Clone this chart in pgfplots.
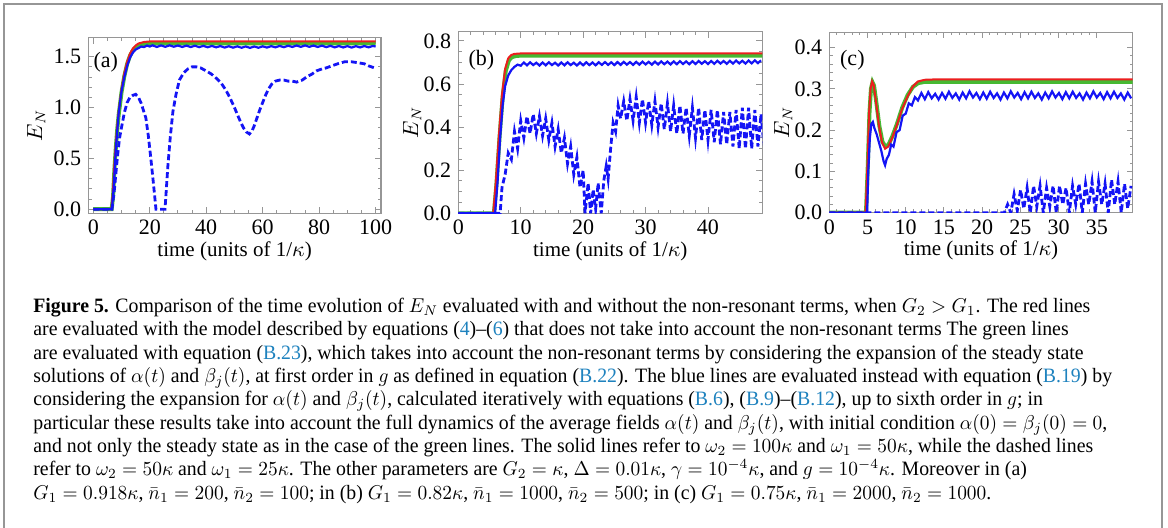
\documentclass[border=0pt]{standalone}
\usepackage{graphicx}
\usepackage{pgfplots}
\pgfplotsset{compat=1.18}
\usepackage{fontspec}
\setmainfont{Liberation Serif}

\definecolor{ered}{RGB}{235,30,30}
\definecolor{egreen}{RGB}{70,185,50}
\definecolor{eblue}{RGB}{20,20,245}
\definecolor{eref}{RGB}{30,130,190}
\definecolor{eframe}{RGB}{150,150,150}

\pgfplotsset{
  enpanel/.style={
    scale only axis,
    axis line style={eframe, line width=0.6pt},
    tick style={eframe, line width=0.5pt},
    major tick length=3pt, minor tick length=1.6pt,
    tick label style={font=\fontsize{11}{13}\selectfont},
    /pgf/number format/assume math mode=true,
    label style={font=\fontsize{10.5}{12}\selectfont},
    xlabel={time (units of 1/$\kappa$)},
    ylabel={$E_N$},
    xlabel style={at={([yshift=-21.5pt]axis description cs:0.5,0)}, anchor=base},
    ylabel style={at={([xshift=-23pt]axis description cs:0,0.5)}, anchor=center},
    yticklabel style={/pgf/number format/.cd, fixed, fixed zerofill, precision=1},
  },
  redline/.style={ered, line width=1pt},
  greenline/.style={egreen, line width=2pt},
  blueline/.style={eblue, line width=1.1pt},
  bluedash/.style={eblue, line width=1.4pt, dash pattern=on 3pt off 1.5pt},
}

\begin{document}
\begin{tikzpicture}
\path[use as bounding box] (0,0) rectangle (584pt,-264pt);
\draw[eframe, line width=1pt] (2pt,-266pt) -- (2pt,-2pt) -- (581pt,-2pt) -- (581pt,-266pt);

% (a)
\begin{axis}[enpanel, at={(44.15pt,-106.65pt)}, anchor=south west,
  width=146.35pt, height=87.8pt,
  xmin=-1.77, xmax=101.9, ymin=-0.04, ymax=1.687,
  xtick={0,20,...,100}, ytick={0,0.5,1,1.5},
  minor x tick num=3, minor y tick num=4,
  ylabel style={at={([xshift=-26pt]axis description cs:0,0.5)}}]
\addplot[greenline] coordinates {(0,0) (6.5,0) (7,0.12) (7.5,0.4) (8,0.61) (8.5,0.79) (9,0.93) (10,1.15) (11,1.31) (12,1.43) (13,1.51) (14,1.56) (15,1.59) (16,1.61) (18,1.625) (21,1.632) (100,1.632)};
\addplot[redline] coordinates {(0,0) (6.4,0) (6.9,0.15) (7.5,0.45) (8,0.65) (8.5,0.82) (9,0.96) (10,1.18) (11,1.34) (12,1.45) (13,1.53) (14,1.58) (15,1.61) (16,1.63) (18,1.645) (20,1.65) (100,1.65)};
\addplot[blueline] coordinates {(0,0) (6.6,0) (7.2,0.2) (8,0.6) (9,0.95) (10,1.16) (11,1.3) (12,1.41) (13,1.49) (14,1.54) (15,1.57) (16,1.585) (17,1.6) (18,1.595) (19,1.61) (20,1.6)
 (21,1.612) (22.5,1.596) (24,1.611) (25.5,1.597) (27,1.612) (28.5,1.598) (30,1.61) (31.5,1.596) (33,1.609) (34.5,1.595) (36,1.608) (37.5,1.594) (39,1.607) (40.5,1.593) (42,1.606) (43.5,1.592) (45,1.605) (46.5,1.59) (48,1.603) (49.5,1.589) (51,1.602) (52.5,1.588) (54,1.601) (55.5,1.587) (57,1.601) (58.5,1.588) (60,1.602) (61.5,1.59) (63,1.604) (64.5,1.592) (66,1.606) (67.5,1.594) (69,1.608) (70.5,1.596) (72,1.61) (73.5,1.597) (75,1.611) (76.5,1.597) (78,1.61) (79.5,1.596) (81,1.609) (82.5,1.594) (84,1.607) (85.5,1.592) (87,1.605) (88.5,1.591) (90,1.604) (91.5,1.59) (93,1.604) (94.5,1.591) (96,1.605) (97.5,1.592) (99,1.606) (100,1.6)};
\addplot[bluedash] coordinates {(0,0) (6.6,0) (7.5,0.2) (8.5,0.5) (9.3,0.7) (10.1,0.82) (11,0.95) (12,1.05) (13,1.1) (14,1.12) (15,1.13) (16,1.1) (17,1.04) (18,0.95) (18.6,0.9) (19.5,0.72) (20.3,0.52) (21.2,0.28) (22.2,0) (25.4,0) (26.4,0.42) (27.3,0.72) (28.2,0.96) (29.3,1.13) (30.5,1.27) (32,1.34) (33.5,1.38) (35,1.4) (36.5,1.4) (38,1.39) (40,1.36) (41.8,1.33) (43.5,1.29) (45.3,1.24) (47,1.17) (48.5,1.09) (50,1.0) (51.2,0.92) (52.3,0.85) (53.2,0.8) (54.2,0.76) (55.3,0.74) (56.2,0.77) (57,0.82) (58,0.9) (59,0.98) (60,1.05) (61,1.12) (62,1.18) (63.2,1.23) (64.5,1.26) (66,1.27) (67.5,1.27) (69,1.26) (70.5,1.26) (72,1.25) (74,1.27) (75.5,1.3) (77.5,1.33) (79,1.36) (81,1.38) (82.5,1.39) (84.5,1.41) (86.5,1.43) (89,1.45) (91.5,1.45) (94,1.44) (96,1.43) (97.5,1.41) (99.6,1.39)};
\node[font=\fontsize{11}{13}\selectfont] at (rel axis cs:0.06,0.86) {(a)};
\end{axis}

% (b)
\begin{axis}[enpanel, at={(229.15pt,-106.65pt)}, anchor=south west,
  width=152pt, height=90.8pt,
  xmin=0, xmax=48.7, ymin=0, ymax=0.843,
  xtick={0,10,...,40}, ytick={0,0.2,0.4,0.6,0.8},
  minor x tick num=4, minor y tick num=3]
\addplot[greenline] coordinates {(0,0) (5.7,0) (6.1,0.13) (6.6,0.35) (7.1,0.54) (7.6,0.66) (8.1,0.71) (8.6,0.725) (9.2,0.73) (10,0.732) (48.7,0.732)};
\addplot[redline] coordinates {(0,0) (5.6,0) (6.0,0.14) (6.5,0.36) (7.0,0.55) (7.5,0.67) (8.0,0.72) (8.5,0.735) (9,0.74) (10,0.742) (48.7,0.742)};
\addplot[blueline] coordinates {(0,0) (5.9,0) (6.3,0.15) (6.7,0.35) (7.1,0.5) (7.5,0.59) (8,0.64) (8.5,0.665) (9,0.68) (9.5,0.69) (10,0.685)
 (10.5,0.700) (11,0.687) (11.5,0.701) (12,0.688) (12.5,0.699) (13,0.686) (13.5,0.700) (14,0.687) (14.5,0.701) (15,0.688) (15.5,0.699) (16,0.686) (16.5,0.700) (17,0.687) (17.5,0.701) (18,0.688) (18.5,0.699) (19,0.686) (19.5,0.700) (20,0.687) (20.5,0.701) (21,0.688) (21.5,0.700) (22,0.687) (22.5,0.701) (23,0.689) (23.5,0.702) (24,0.689) (24.5,0.701) (25,0.688) (25.5,0.702) (26,0.689) (26.5,0.703) (27,0.690) (27.5,0.702) (28,0.689) (28.5,0.703) (29,0.690) (29.5,0.704) (30,0.691) (30.5,0.703) (31,0.690) (31.5,0.704) (32,0.691) (32.5,0.705) (33,0.692) (33.5,0.704) (34,0.691) (34.5,0.705) (35,0.692) (35.5,0.706) (36,0.693) (36.5,0.705) (37,0.692) (37.5,0.706) (38,0.693) (38.5,0.707) (39,0.694) (39.5,0.706) (40,0.693) (40.5,0.707) (41,0.694) (41.5,0.708) (42,0.695) (42.5,0.707) (43,0.694) (43.5,0.708) (44,0.695) (44.5,0.709) (45,0.696) (45.5,0.708) (46,0.695) (46.5,0.709) (47,0.696) (47.5,0.710) (48,0.697) (48.5,0.710)};
\addplot[bluedash] coordinates {(0,0) (6.7,0) (7.0,0.12) (7.5,0.18) (8.0,0.28) (8.5,0.25) (9.0,0.38) (9.5,0.30) (10.0,0.43) (10.5,0.35) (11.0,0.45) (11.5,0.37) (12.0,0.46) (12.5,0.37) (13.0,0.45) (13.5,0.36) (14.0,0.44) (14.5,0.34) (15.0,0.42) (15.5,0.31) (16.0,0.39) (16.5,0.28) (17.0,0.35) (17.5,0.23) (18.0,0.31) (18.5,0.18) (19.0,0.26) (19.5,0.12) (20.0,0.2) (20.3,0.0) (20.8,0.14) (21.2,0.0) (21.6,0.11) (22.0,0.02) (22.4,0.14) (22.9,0.0) (23.3,0.15) (23.7,0.22) (24.0,0.16) (24.4,0.3) (24.8,0.42) (25.2,0.38) (25.6,0.5) (26.0,0.44) (26.5,0.52) (27.0,0.43) (27.5,0.53) (28.0,0.43) (28.5,0.54) (29.0,0.42) (29.5,0.53) (30.0,0.42) (30.5,0.52) (31.0,0.41) (31.5,0.52) (32.0,0.40) (32.5,0.51) (33.0,0.39) (33.5,0.51) (34.0,0.38) (34.5,0.5) (35.0,0.37) (35.5,0.5) (36.0,0.37) (36.5,0.49) (37.0,0.36) (37.5,0.49) (38.0,0.35) (38.5,0.49) (39.0,0.34) (39.5,0.48) (40.0,0.34) (40.5,0.48) (41.0,0.33) (41.5,0.48) (42.0,0.32) (42.5,0.47) (43.0,0.32) (43.5,0.47) (44.0,0.31) (44.5,0.48) (45.0,0.30) (45.5,0.49) (46.0,0.30) (46.5,0.49) (47.0,0.30) (47.5,0.48) (48.0,0.31) (48.5,0.46) (49.0,0.30)};
\node[font=\fontsize{11}{13}\selectfont] at (rel axis cs:0.076,0.845) {(b)};
\end{axis}

% (c)
\begin{axis}[enpanel, at={(414.65pt,-106.35pt)}, anchor=south west,
  width=151.7pt, height=90.2pt,
  xmin=0, xmax=39.7, ymin=0, ymax=0.437,
  xtick={0,5,...,35}, ytick={0,0.1,0.2,0.3,0.4},
  minor x tick num=4, minor y tick num=4]
\addplot[greenline] coordinates {(0,0) (4.8,0) (5.05,0.12) (5.25,0.24) (5.45,0.3) (5.65,0.316) (5.85,0.308) (6.15,0.268) (6.55,0.21) (6.95,0.172) (7.35,0.16) (7.75,0.165) (8.25,0.185) (8.85,0.215) (9.55,0.255) (10.25,0.285) (10.95,0.305) (11.65,0.314) (12.5,0.317) (39.7,0.317)};
\addplot[redline] coordinates {(0,0) (4.75,0) (5.0,0.12) (5.2,0.24) (5.4,0.3) (5.6,0.318) (5.8,0.31) (6.1,0.27) (6.5,0.21) (6.9,0.17) (7.3,0.155) (7.7,0.16) (8.2,0.18) (8.8,0.21) (9.5,0.25) (10.2,0.28) (10.9,0.305) (11.6,0.318) (12.5,0.322) (14,0.323) (39.7,0.323)};
\addplot[blueline] coordinates {(0,0) (4.95,0) (5.1,0.1) (5.3,0.18) (5.5,0.215) (5.7,0.22) (5.9,0.205) (6.2,0.19) (6.5,0.17) (6.8,0.15) (7.1,0.125) (7.3,0.115) (7.5,0.13) (7.8,0.14) (8.1,0.165) (8.4,0.16) (8.8,0.195) (9.2,0.2) (9.6,0.235) (10.0,0.24) (10.4,0.265) (10.8,0.26) (11.2,0.28) (11.6,0.272)
 (12.05,0.29) (12.5,0.275) (12.95,0.292) (13.4,0.277) (13.85,0.288) (14.3,0.274) (14.75,0.29) (15.2,0.276) (15.65,0.293) (16.1,0.278) (16.55,0.289) (17.0,0.274) (17.45,0.291) (17.9,0.277) (18.35,0.294) (18.8,0.279) (19.25,0.29) (19.7,0.275) (20.15,0.291) (20.6,0.276) (21.05,0.293) (21.5,0.278) (21.95,0.289) (22.4,0.274) (22.85,0.291) (23.3,0.277) (23.75,0.294) (24.2,0.279) (24.65,0.29) (25.1,0.275) (25.55,0.292) (26.0,0.277) (26.45,0.293) (26.9,0.278) (27.35,0.289) (27.8,0.274) (28.25,0.291) (28.7,0.277) (29.15,0.294) (29.6,0.279) (30.05,0.29) (30.5,0.275) (30.95,0.292) (31.4,0.277) (31.85,0.293) (32.3,0.278) (32.75,0.289) (33.2,0.274) (33.65,0.291) (34.1,0.277) (34.55,0.294) (35.0,0.279) (35.45,0.29) (35.9,0.275) (36.35,0.292) (36.8,0.277) (37.25,0.293) (37.7,0.278) (38.15,0.289) (38.6,0.274) (39.05,0.291) (39.5,0.277)};
\addplot[bluedash] coordinates {(0,0) (22.9,0) (23.33,0.02) (23.75,0.0) (24.18,0.045) (24.6,0.005) (25.03,0.055) (25.45,0.01) (25.88,0.06) (26.3,0.0) (26.73,0.065) (27.15,0.015) (27.58,0.065) (28.0,0.0) (28.43,0.06) (28.85,0.015) (29.28,0.065) (29.7,0.0) (30.13,0.065) (30.55,0.02) (30.98,0.06) (31.4,0.0) (31.83,0.065) (32.25,0.02) (32.68,0.07) (33.1,0.0) (33.53,0.07) (33.95,0.02) (34.38,0.075) (34.8,0.0) (35.23,0.075) (35.65,0.02) (36.08,0.07) (36.5,0.0) (36.93,0.08) (37.35,0.02) (37.78,0.075) (38.2,0.0) (38.63,0.07) (39.05,0.01) (39.48,0.065)};
\node[font=\fontsize{11}{13}\selectfont] at (rel axis cs:0.076,0.845) {(c)};
\end{axis}

% caption
\node[anchor=base west, inner sep=0pt] at (16.5pt,-156.35pt) {\scalebox{0.97}[1]{\parbox[t]{600pt}{\raggedright\fontsize{10.2}{11.65}\selectfont
\textbf{Figure 5.} Comparison of the time evolution of $E_N$ evaluated with and without the non-resonant terms, when $G_2>G_1$. The red lines\\
are evaluated with the model described by equations (\textcolor{eref}{4})--(\textcolor{eref}{6}) that does not take into account the non-resonant terms The green lines\\
are evaluated with equation (\textcolor{eref}{B.23}), which takes into account the non-resonant terms by considering the expansion of the steady state\\
solutions of $\alpha(t)$ and $\beta_j(t)$, at first order in $g$ as defined in equation (\textcolor{eref}{B.22}). The blue lines are evaluated instead with equation (\textcolor{eref}{B.19}) by\\
considering the expansion for $\alpha(t)$ and $\beta_j(t)$, calculated iteratively with equations (\textcolor{eref}{B.6}), (\textcolor{eref}{B.9})--(\textcolor{eref}{B.12}), up to sixth order in $g$; in\\
particular these results take into account the full dynamics of the average fields $\alpha(t)$ and $\beta_j(t)$, with initial condition $\alpha(0)=\beta_j(0)=0$,\\
and not only the steady state as in the case of the green lines. The solid lines refer to $\omega_2=100\kappa$ and $\omega_1=50\kappa$, while the dashed lines\\
refer to $\omega_2=50\kappa$ and $\omega_1=25\kappa$. The other parameters are $G_2=\kappa$, $\Delta=0.01\kappa$, $\gamma=10^{-4}\kappa$, and $g=10^{-4}\kappa$. Moreover in (a)\\
$G_1 = 0.918\kappa$, $\bar{n}_1 = 200$, $\bar{n}_2 = 100$; in (b) $G_1 = 0.82\kappa$, $\bar{n}_1 = 1000$, $\bar{n}_2 = 500$; in (c) $G_1 = 0.75\kappa$, $\bar{n}_1 = 2000$, $\bar{n}_2 = 1000$.}}};
\end{tikzpicture}
\end{document}
